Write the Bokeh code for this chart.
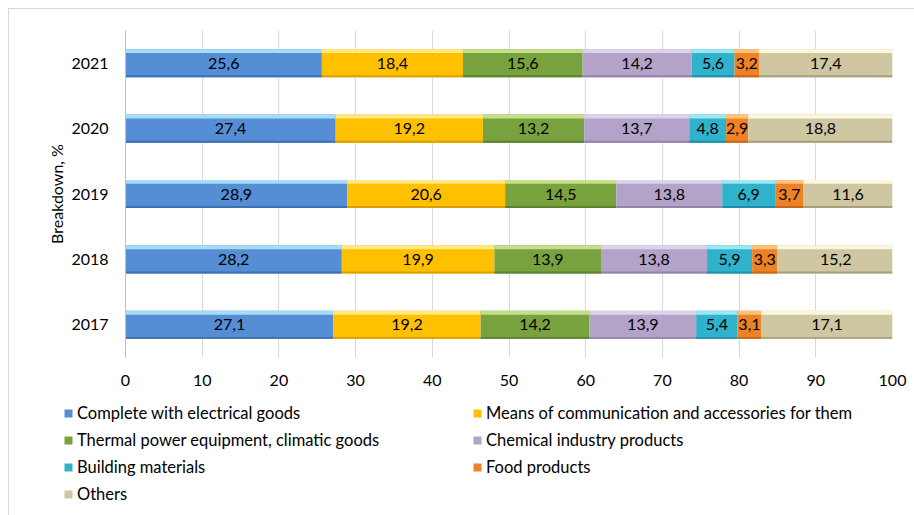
from bokeh.plotting import figure
from bokeh.models import (ColumnDataSource, FactorRange, Range1d, Legend, LegendItem,
                          FixedTicker)
from bokeh.embed import file_html
from bokeh.resources import INLINE
from bokeh.core.properties import value

years = ["2017", "2018", "2019", "2020", "2021"]
series_names = [
    "Complete with electrical goods",
    "Means of communication and accessories for them",
    "Thermal power equipment, climatic goods",
    "Chemical industry products",
    "Building materials",
    "Food products",
    "Others",
]
complete_electrical = [27.1, 28.2, 28.9, 27.4, 25.6]
means_communication = [19.2, 19.9, 20.6, 19.2, 18.4]
thermal_power = [14.2, 13.9, 14.5, 13.2, 15.6]
chemical_industry = [13.9, 13.8, 13.8, 13.7, 14.2]
building_materials = [5.4, 5.9, 6.9, 4.8, 5.6]
food_products = [3.1, 3.3, 3.7, 2.9, 3.2]
others = [17.1, 15.2, 11.6, 18.8, 17.4]
x_ticks = [0, 10, 20, 30, 40, 50, 60, 70, 80, 90, 100]

series_values = [complete_electrical, means_communication, thermal_power,
                 chemical_industry, building_materials, food_products, others]
colors = ["#558ED5", "#FFC000", "#77A23E", "#B4A3C8", "#31B2CC", "#EE8226", "#CEC7A2"]
light = ["#A6DCF5", "#FFE885", "#C4DE8C", "#DCD2EA", "#9EE6F2", "#FBC27E", "#FAF7DE"]
dark = ["#3E70B0", "#D9A000", "#5C8230", "#9482AA", "#208FA6", "#C8661A", "#A8A07C"]

FONT = "Lato"
FS = "16px"
GRAY = "#D9D9D9"

p = figure(width=914, height=400, output_backend="svg", toolbar_location=None,
           y_range=FactorRange(*years), x_range=Range1d(0, 100),
           min_border_left=125, min_border_right=22, min_border_top=30,
           min_border_bottom=43)
p.outline_line_color = None
p.background_fill_color = "white"
p.border_fill_alpha = 0
p.styles = {
    "background-color": "white",
    "background-image": f"linear-gradient({GRAY}, {GRAY}), linear-gradient({GRAY}, {GRAY})",
    "background-position": "8px 8px, 8px 8px",
    "background-size": "100% 1px, 1px 100%",
    "background-repeat": "no-repeat, no-repeat",
}

H = 0.43
left = [0.0] * len(years)
for name, vals, c, lc, dc in zip(series_names, series_values, colors, light, dark):
    right = [l + v for l, v in zip(left, vals)]
    mid = [l + v / 2 for l, v in zip(left, vals)]
    labels = [("%.1f" % v).replace(".", ",") for v in vals]
    src = ColumnDataSource(dict(y=years, left=left, right=right, mid=mid, lab=labels,
                                ytop=[(yy, 0.185) for yy in years],
                                ybot=[(yy, -0.2) for yy in years]))
    p.hbar(y="y", left="left", right="right", height=H, source=src,
           fill_color=c, line_color=None)
    # bevel highlight on top and shadow at bottom
    p.hbar(y="ytop", left="left", right="right", height=0.06,
           source=src, fill_color=lc, line_color=None)
    p.hbar(y="ybot", left="left", right="right", height=0.03,
           source=src, fill_color=dc, line_color=None)
    p.text(x="mid", y="y", text="lab", source=src, text_align="center",
           text_baseline="middle", text_font=value(FONT), text_font_size=FS,
           text_color="#000000")
    left = right

p.xgrid.ticker = FixedTicker(ticks=x_ticks)
p.xgrid.grid_line_color = GRAY
p.ygrid.grid_line_color = None
p.xaxis.ticker = FixedTicker(ticks=x_ticks)
p.xaxis.axis_line_color = None
p.xaxis.major_tick_line_color = None
p.xaxis.minor_tick_line_color = None
p.xaxis.major_label_standoff = 11
p.xaxis.major_label_text_font = FONT
p.xaxis.major_label_text_font_size = FS
p.xaxis.major_label_text_color = "#000000"

p.yaxis.axis_line_color = "#BFBFBF"
p.yaxis.major_tick_line_color = None
p.yaxis.minor_tick_line_color = None
p.yaxis.major_label_standoff = 11
p.yaxis.major_label_text_font = FONT
p.yaxis.major_label_text_font_size = FS
p.yaxis.major_label_text_color = "#000000"
p.yaxis.axis_label = "Breakdown, %"
p.yaxis.axis_label_standoff = 2
p.yaxis.axis_label_text_font = FONT
p.yaxis.axis_label_text_font_size = FS
p.yaxis.axis_label_text_font_style = "normal"
p.yaxis.axis_label_text_color = "#000000"

# legend panel (separate root, placed under the chart)
lg = figure(width=914, height=115, output_backend="svg", toolbar_location=None,
            x_range=Range1d(-1000, -999), y_range=Range1d(0, 1),
            min_border=0, x_axis_type=None, y_axis_type=None)
lg.outline_line_color = None
lg.grid.visible = False
lg.border_fill_alpha = 0
lg.background_fill_alpha = 0
lg.styles = {
    "background-color": "white",
    "background-image": f"linear-gradient({GRAY}, {GRAY})",
    "background-position": "8px 0px",
    "background-size": "1px 100%",
    "background-repeat": "no-repeat",
}
item_map = {}
for name, vals, c in zip(series_names, series_values, colors):
    lsrc = ColumnDataSource(dict(v=vals))
    r = lg.hbar(y=0.5, left=0, right="v", height=0.5, source=lsrc,
                fill_color=c, line_color=None)
    item_map[name] = LegendItem(label=name, renderers=[r])

# column-major fill with 2 columns -> reorder so rows read left to right
order = [0, 2, 4, 6, 1, 3, 5]
items = [item_map[series_names[i]] for i in order]

legend = Legend(items=items, location=(63, 11), ncols=2, padding=0, margin=0,
                glyph_width=10, glyph_height=10, label_standoff=4,
                label_width=388, label_height=20, spacing=7,
                border_line_color=None, background_fill_alpha=0,
                label_text_font=FONT, label_text_font_size="16.5px",
                label_text_color="#000000")
lg.add_layout(legend, "center")

open("out.html", "w").write(file_html([p, lg], INLINE))
